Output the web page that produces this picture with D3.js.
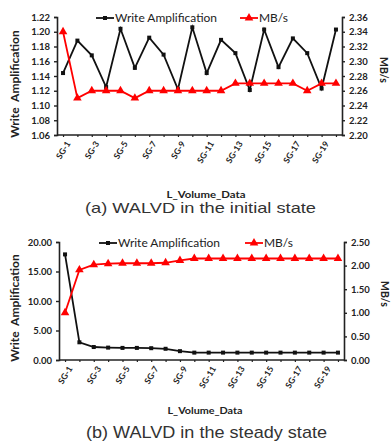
<!DOCTYPE html>
<html>
<head>
<meta charset="utf-8">
<script src="https://cdn.jsdelivr.net/npm/d3@7"></script>
<style>
  body { margin: 0; background: #fff; }
  svg { display: block; }
  .tick text { font-family: Lato, "Open Sans", sans-serif; font-weight: bold; fill: #222; }
</style>
</head>
<body>
<svg id="chart" width="391" height="444"></svg>
<script>
const categories = ['SG-1','SG-2','SG-3','SG-4','SG-5','SG-6','SG-7','SG-8','SG-9','SG-10',
                    'SG-11','SG-12','SG-13','SG-14','SG-15','SG-16','SG-17','SG-18','SG-19','SG-20'];

// (a) initial state
const initialWA  = [1.144, 1.188, 1.168, 1.125, 1.204, 1.151, 1.192, 1.169, 1.122, 1.206,
                    1.144, 1.189, 1.171, 1.121, 1.203, 1.152, 1.191, 1.171, 1.123, 1.203];
const initialMBs = [2.34, 2.25, 2.26, 2.26, 2.26, 2.25, 2.26, 2.26, 2.26, 2.26,
                    2.26, 2.26, 2.27, 2.27, 2.27, 2.27, 2.27, 2.26, 2.27, 2.27];
const initialLeftTicks  = [1.06, 1.08, 1.10, 1.12, 1.14, 1.16, 1.18, 1.20, 1.22];
const initialRightTicks = [2.20, 2.22, 2.24, 2.26, 2.28, 2.30, 2.32, 2.34, 2.36];

// (b) steady state
const steadyWA  = [17.9, 3.0, 2.2, 2.1, 2.05, 2.05, 2.0, 1.9, 1.5, 1.25,
                   1.25, 1.25, 1.25, 1.25, 1.25, 1.25, 1.25, 1.25, 1.25, 1.25];
const steadyMBs = [1.0, 1.91, 2.02, 2.04, 2.05, 2.05, 2.05, 2.06, 2.11, 2.15,
                   2.15, 2.15, 2.15, 2.15, 2.15, 2.15, 2.15, 2.15, 2.15, 2.15];
const steadyLeftTicks  = [0, 5, 10, 15, 20];
const steadyRightTicks = [0, 0.5, 1.0, 1.5, 2.0, 2.5];

const xLabels = categories.filter((d, i) => i % 2 === 0);

const svg = d3.select('#chart');

function drawPanel(p) {
    const g = svg.append('g');

    const x = d3.scalePoint().domain(categories).range([p.left, p.right]).padding(0.42);
    const yL = d3.scaleLinear().domain(p.leftDomain).range([p.bottom, p.top]);
    const yR = d3.scaleLinear().domain(p.rightDomain).range([p.bottom, p.top]);

    // left axis
    g.append('g')
        .attr('transform', `translate(${p.left},0)`)
        .call(d3.axisLeft(yL).tickValues(p.leftTicks).tickFormat(d3.format('.2f')).tickSize(3).tickPadding(4))
        .call(a => a.selectAll('text').attr('font-size', p.tickFont))
        .call(a => a.select('.domain').attr('stroke', '#222').attr('stroke-width', 1.6))
        .call(a => a.selectAll('.tick line').attr('stroke', '#222').attr('stroke-width', 1.4));

    // right axis
    g.append('g')
        .attr('transform', `translate(${p.right},0)`)
        .call(d3.axisRight(yR).tickValues(p.rightTicks).tickFormat(d3.format('.2f')).tickSize(3).tickPadding(4))
        .call(a => a.selectAll('text').attr('font-size', p.tickFont))
        .call(a => a.select('.domain').attr('stroke', '#222').attr('stroke-width', 1.6))
        .call(a => a.selectAll('.tick line').attr('stroke', '#222').attr('stroke-width', 1.4));

    // bottom axis
    g.append('g')
        .attr('transform', `translate(0,${p.bottom})`)
        .call(d3.axisBottom(x).tickSize(2).tickSizeOuter(0)
            .tickFormat(d => xLabels.includes(d) ? d : ''))
        .call(a => a.select('.domain').attr('stroke', '#222').attr('stroke-width', 1.6)
            .attr('d', `M${p.left},0H${p.right}`))
        .call(a => a.selectAll('.tick line').attr('stroke', '#222').attr('stroke-width', 1.2))
        .call(a => a.selectAll('text')
            .attr('font-size', 8.5)
            .attr('text-anchor', 'end')
            .attr('dy', 0)
            .attr('transform', 'translate(3,6) rotate(-58)'));

    // Write Amplification line
    const lineL = d3.line().x((d, i) => x(categories[i])).y(d => yL(d));
    g.append('path').datum(p.wa)
        .attr('fill', 'none').attr('stroke', '#111').attr('stroke-width', 1.8)
        .attr('d', lineL);
    g.selectAll('.sq').data(p.wa).enter().append('rect')
        .attr('x', (d, i) => x(categories[i]) - 2)
        .attr('y', d => yL(d) - 2)
        .attr('width', 4).attr('height', 4)
        .attr('fill', '#111');

    // MB/s line
    const lineR = d3.line().x((d, i) => x(categories[i])).y(d => yR(d));
    g.append('path').datum(p.mbs)
        .attr('fill', 'none').attr('stroke', '#ff0000').attr('stroke-width', 1.8)
        .attr('d', lineR);
    const tri = d3.symbol().type(d3.symbolTriangle).size(32);
    g.selectAll('.tri').data(p.mbs).enter().append('path')
        .attr('d', tri)
        .attr('transform', (d, i) => `translate(${x(categories[i])},${yR(d)})`)
        .attr('fill', '#ff0000');

    // legend
    const lg = g.append('g').attr('transform', `translate(0,${p.legendY})`);
    lg.append('line').attr('x1', p.legWA).attr('x2', p.legWA + 18).attr('stroke', '#111').attr('stroke-width', 1.8);
    lg.append('rect').attr('x', p.legWA + 7).attr('y', -2).attr('width', 4).attr('height', 4).attr('fill', '#111');
    lg.append('text').attr('x', p.legWA + 19).attr('y', 4)
        .attr('font-family', 'Lato, sans-serif').attr('font-size', 11).attr('fill', '#222')
        .attr('textLength', 102).attr('lengthAdjust', 'spacingAndGlyphs')
        .text('Write Amplification');
    lg.append('line').attr('x1', p.legMB).attr('x2', p.legMB + 18).attr('stroke', '#ff0000').attr('stroke-width', 1.8);
    lg.append('path').attr('d', tri).attr('transform', `translate(${p.legMB + 9},0)`).attr('fill', '#ff0000');
    lg.append('text').attr('x', p.legMB + 19).attr('y', 4)
        .attr('font-family', 'Lato, sans-serif').attr('font-size', 11).attr('fill', '#222')
        .attr('textLength', 29).attr('lengthAdjust', 'spacingAndGlyphs')
        .text('MB/s');

    // axis titles
    g.append('text')
        .attr('transform', `translate(${p.yTitleX},${p.yTitleY}) rotate(-90)`)
        .attr('text-anchor', 'middle')
        .attr('font-family', 'Lato, sans-serif').attr('font-weight', 'bold').attr('font-size', 12)
        .attr('fill', '#222').attr('xml:space', 'preserve')
        .text('Write  Amplification');
    g.append('text')
        .attr('transform', `translate(${p.rTitleX},${p.rTitleY}) rotate(90)`)
        .attr('text-anchor', 'middle')
        .attr('font-family', 'Lato, sans-serif').attr('font-weight', 'bold').attr('font-size', 10.5)
        .attr('fill', '#222')
        .text('MB/s');
    g.append('text')
        .attr('x', p.xTitleX).attr('y', p.xTitleY)
        .attr('text-anchor', 'middle')
        .attr('font-family', 'Lato, sans-serif').attr('font-weight', 'bold').attr('font-size', 9)
        .attr('fill', '#222')
        .attr('textLength', p.xTitleLen).attr('lengthAdjust', 'spacingAndGlyphs')
        .text('L_Volume_Data');

    // caption
    g.append('text')
        .attr('x', p.captionX).attr('y', p.captionY)
        .attr('font-family', '"Liberation Sans", Arial, sans-serif').attr('font-size', p.captionFont)
        .attr('fill', '#333')
        .attr('textLength', p.captionLen).attr('lengthAdjust', 'spacingAndGlyphs')
        .text(p.caption);
}

drawPanel({
    left: 57, right: 342, top: 17, bottom: 135,
    leftDomain: [1.06, 1.22], rightDomain: [2.20, 2.36],
    leftTicks: initialLeftTicks, rightTicks: initialRightTicks,
    wa: initialWA, mbs: initialMBs, tickFont: 9.5,
    legendY: 18, legWA: 96, legMB: 240,
    yTitleX: 19, yTitleY: 84, rTitleX: 380, rTitleY: 70,
    xTitleX: 206, xTitleY: 198, xTitleLen: 79,
    captionX: 85, captionY: 213, captionFont: 15, captionLen: 231,
    caption: '(a) WALVD in the initial state'
});

drawPanel({
    left: 59, right: 344, top: 242, bottom: 360,
    leftDomain: [0, 20], rightDomain: [0, 2.5],
    leftTicks: steadyLeftTicks, rightTicks: steadyRightTicks,
    wa: steadyWA, mbs: steadyMBs, tickFont: 9.5,
    legendY: 243, legWA: 99, legMB: 245,
    yTitleX: 19, yTitleY: 308, rTitleX: 381, rTitleY: 294,
    xTitleX: 205, xTitleY: 414, xTitleLen: 75,
    captionX: 86, captionY: 438, captionFont: 17, captionLen: 241,
    caption: '(b) WALVD in the steady state'
});
</script>
</body>
</html>
